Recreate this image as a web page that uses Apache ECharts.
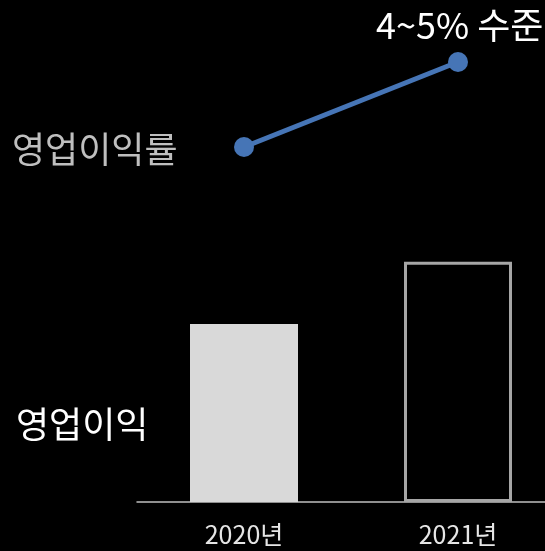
<!DOCTYPE html>
<html><head><meta charset="utf-8">
<script src="https://cdn.jsdelivr.net/npm/echarts@6/dist/echarts.min.js"></script>
<style>html,body{margin:0;padding:0;background:#000;}#c{width:545px;height:551px;}</style>
</head><body><div id="c"></div>
<script>
const categories = ['2020년', '2021년'];
const operatingProfit = [100, 135];      // relative bar heights
const operatingMargin = [3.0, 4.5];      // %
const labelMargin = '영업이익률';
const labelProfit = '영업이익';
const labelTarget = '4~5% 수준';

const FONT = '"Noto Sans CJK KR", "Noto Sans", sans-serif';
const chart = echarts.init(document.getElementById('c'));
chart.setOption({
  backgroundColor: '#000',
  animation: false,
  grid: { left: 137, top: 0, width: 428, bottom: 49, containLabel: false, outerBoundsMode: 'none' },
  xAxis: {
    type: 'category', data: categories, boundaryGap: true,
    axisLine: { lineStyle: { color: '#bfbfbf', width: 1.5 } },
    axisTick: { show: false },
    axisLabel: { color: '#e6e6e6', fontSize: 25, fontFamily: FONT, margin: 20 }
  },
  yAxis: [
    { type: 'value', min: 0, max: 282, show: false, splitLine: { show: false } },
    { type: 'value', min: -3.265, max: 5.594, show: false, splitLine: { show: false } }
  ],
  series: [
    {
      type: 'bar', yAxisIndex: 0, barWidth: 108,
      data: [
        { value: operatingProfit[0], itemStyle: { color: '#d9d9d9' } },
        { value: operatingProfit[1], itemStyle: { color: '#000', borderColor: '#a6a6a6', borderWidth: 3 } }
      ]
    },
    {
      type: 'line', yAxisIndex: 1, data: operatingMargin,
      symbol: 'circle', symbolSize: 20,
      lineStyle: { color: '#4675b6', width: 5 },
      itemStyle: { color: '#4675b6' }
    }
  ],
  graphic: [
    { type: 'text', left: 12, top: 131, style: { text: labelMargin, fill: '#bfbfbf', fontSize: 36, fontFamily: FONT } },
    { type: 'text', left: 16, top: 406, style: { text: labelProfit, fill: '#ffffff', fontSize: 36, fontFamily: FONT } },
    { type: 'text', left: 376, top: 7, style: { text: labelTarget, fill: '#ffffff', fontSize: 36, fontFamily: FONT } }
  ]
});
</script></body></html>
